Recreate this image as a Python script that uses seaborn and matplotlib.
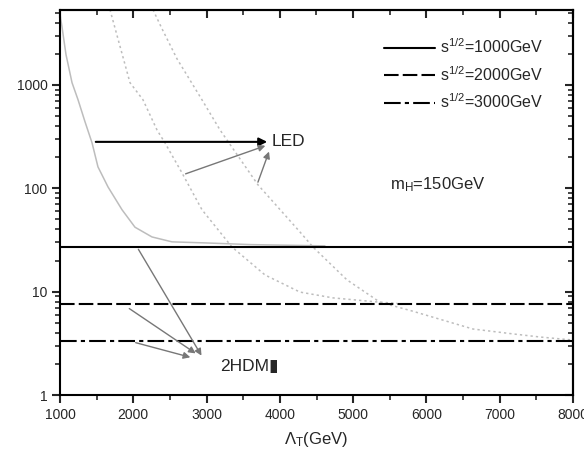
import seaborn as sns
import pandas as pd
import matplotlib.pyplot as plt
import numpy as np
from matplotlib.ticker import LogLocator, NullFormatter, MultipleLocator

# LED curves
led1_x = [1000, 1027, 1082, 1164, 1246, 1341, 1437, 1518, 1655, 1846, 2023, 2255, 2528, 2978, 3600, 4615]
led1_y = [4800, 3650, 1960, 1050, 718, 440, 275, 161, 103, 62, 42, 33.8, 30.3, 29.6, 28.5, 27.7]

led2_x = [1682, 1955, 2132, 2323, 2432, 2664, 2937, 3347, 3797, 4274, 4724, 5366, 5600]
led2_y = [5330, 1050, 718, 367, 275, 141, 62, 27, 14.5, 9.9, 8.7, 7.9, 7.7]

led3_x = [2269, 2392, 2596, 2937, 3183, 3701, 4274, 4452, 4915, 5366, 5802, 6634, 7180, 7548, 8000]
led3_y = [5330, 3490, 1790, 718, 367, 108, 37.8, 27, 13, 7.9, 6.5, 4.35, 3.9, 3.64, 3.4]

# 2HDM flat values
energies = ["1000GeV", "2000GeV", "3000GeV"]
hdm_values = [27.1, 7.6, 3.33]
x_range = [1000, 8000]

sns.set_style("ticks")
plt.rcParams["font.family"] = ["Liberation Sans", "DejaVu Sans"]
plt.rcParams["mathtext.fontset"] = "custom"
plt.rcParams["mathtext.rm"] = "Liberation Sans"
plt.rcParams["mathtext.it"] = "Liberation Sans"

fig = plt.figure(figsize=(5.84, 4.61), dpi=100)
ax = fig.add_axes([60 / 584, 66 / 461, 513 / 584, 385 / 461])

led = pd.DataFrame({
    "x": led1_x + led2_x + led3_x,
    "y": led1_y + led2_y + led3_y,
    "curve": ["a"] * len(led1_x) + ["b"] * len(led2_x) + ["c"] * len(led3_x),
})
sns.lineplot(data=led, x="x", y="y", hue="curve", style="curve",
             palette=["#bdbdbd"] * 3, dashes={"a": "", "b": (1.5, 2), "c": (1.5, 2)},
             linewidth=1.1, legend=False, sort=False, ax=ax)

hdm = pd.DataFrame({
    "x": x_range * 3,
    "y": [v for v in hdm_values for _ in range(2)],
    "label": [r"s$^{\mathregular{1/2}}$=" + e for e in energies for _ in range(2)],
})
labels = list(dict.fromkeys(hdm["label"]))
sns.lineplot(data=hdm, x="x", y="y", hue="label", style="label",
             palette=["black"] * 3,
             dashes={labels[0]: "", labels[1]: (7, 2), labels[2]: (8, 2, 2, 2)},
             linewidth=1.5, ax=ax)

ax.set_yscale("log")
ax.set_xlim(1000, 8000)
ax.set_ylim(1, 5300)

leg = ax.legend(frameon=False, loc="upper right", bbox_to_anchor=(0.97, 0.966),
                fontsize=11.5, handlelength=3.2, handletextpad=0.3, labelspacing=0.55)

# arrows to LED
ax.annotate("", xy=(3865, 281), xytext=(1450, 281),
            arrowprops=dict(arrowstyle="-|>", color="black", lw=1.5, mutation_scale=12))
ax.annotate("", xy=(3838, 263), xytext=(2678, 135),
            arrowprops=dict(arrowstyle="-|>", color="#777777", lw=1, mutation_scale=10))
ax.annotate("", xy=(3865, 240), xytext=(3688, 108),
            arrowprops=dict(arrowstyle="-|>", color="#777777", lw=1, mutation_scale=10))
ax.text(3890, 281, "LED", fontsize=12.5, va="center", ha="left")

# arrows to 2HDM
ax.annotate("", xy=(2950, 2.28), xytext=(2050, 27.1),
            arrowprops=dict(arrowstyle="-|>", color="#777777", lw=1, mutation_scale=10))
ax.annotate("", xy=(2883, 2.44), xytext=(1914, 7.1),
            arrowprops=dict(arrowstyle="-|>", color="#777777", lw=1, mutation_scale=10))
ax.annotate("", xy=(2815, 2.28), xytext=(1996, 3.26),
            arrowprops=dict(arrowstyle="-|>", color="#777777", lw=1, mutation_scale=10))
ax.text(3180, 1.87, "2HDM\u25ae", fontsize=12.5, va="center", ha="left",
        family=["Liberation Sans", "DejaVu Sans"])

ax.text(5500, 108, r"m$_{\mathregular{H}}$=150GeV", fontsize=12, va="center", ha="left")

ax.set_xlabel(r"$\mathregular{\Lambda_T}$(GeV)", fontsize=12, labelpad=6)
ax.set_ylabel("")
fig.text(-0.012, 0.545, "\u03c3(fb)", rotation=90, fontsize=12, va="center", ha="center")

# ticks
ax.set_xticks(range(1000, 8001, 1000))
ax.xaxis.set_minor_locator(MultipleLocator(500))
ax.set_yticks([1, 10, 100, 1000])
ax.set_yticklabels(["1", "10", "100", "1000"])
ax.yaxis.set_minor_locator(LogLocator(base=10, subs=np.arange(2, 10)))
ax.yaxis.set_minor_formatter(NullFormatter())
ax.tick_params(which="major", direction="out", length=6, width=1.5, labelsize=10, pad=3)
ax.tick_params(which="minor", direction="out", length=3.5, width=1.2)

top = ax.secondary_xaxis("top")
top.set_xticks(range(1000, 8001, 1000))
top.xaxis.set_minor_locator(MultipleLocator(500))
top.set_xticklabels([])
top.tick_params(which="major", direction="in", length=6, width=1.5)
top.tick_params(which="minor", direction="in", length=3.5, width=1.2)

right = ax.secondary_yaxis("right")
right.set_yticks([1, 10, 100, 1000])
right.yaxis.set_minor_locator(LogLocator(base=10, subs=np.arange(2, 10)))
right.yaxis.set_minor_formatter(NullFormatter())
right.set_yticklabels([])
right.tick_params(which="major", direction="in", length=6, width=1.5)
right.tick_params(which="minor", direction="in", length=3.5, width=1.2)

for a in (ax, top, right):
    for s in a.spines.values():
        s.set_linewidth(1.5)
        s.set_color("black")

fig.savefig("out.png", dpi=100)
